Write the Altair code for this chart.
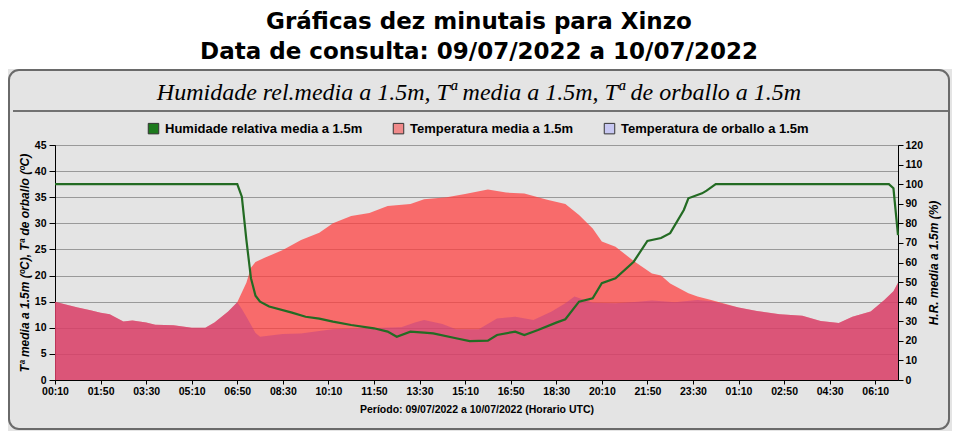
import altair as alt
import pandas as pd

# ---------------- data ----------------
TEMP_TIMES = [
    "2022-07-09 00:10", "2022-07-09 00:40", "2022-07-09 01:00", "2022-07-09 01:30", "2022-07-09 01:50",
    "2022-07-09 02:10", "2022-07-09 02:40", "2022-07-09 03:00", "2022-07-09 03:30", "2022-07-09 03:50",
    "2022-07-09 04:30", "2022-07-09 05:10", "2022-07-09 05:40", "2022-07-09 06:00", "2022-07-09 06:30",
    "2022-07-09 06:50", "2022-07-09 07:10", "2022-07-09 07:20", "2022-07-09 07:30", "2022-07-09 07:50",
    "2022-07-09 08:30", "2022-07-09 09:10", "2022-07-09 09:50", "2022-07-09 10:20", "2022-07-09 11:00",
    "2022-07-09 11:40", "2022-07-09 12:20", "2022-07-09 13:10", "2022-07-09 13:40", "2022-07-09 14:30",
    "2022-07-09 15:10", "2022-07-09 16:00", "2022-07-09 16:40", "2022-07-09 17:20", "2022-07-09 18:10",
    "2022-07-09 18:50", "2022-07-09 19:20", "2022-07-09 19:50", "2022-07-09 20:10", "2022-07-09 20:40",
    "2022-07-09 21:20", "2022-07-09 22:00", "2022-07-09 22:20", "2022-07-09 22:40", "2022-07-09 23:20",
    "2022-07-09 23:40", "2022-07-10 00:10", "2022-07-10 01:10", "2022-07-10 01:50", "2022-07-10 02:40",
    "2022-07-10 03:30", "2022-07-10 04:10", "2022-07-10 04:50", "2022-07-10 05:20", "2022-07-10 06:00",
    "2022-07-10 06:30", "2022-07-10 06:50", "2022-07-10 07:00",
]
TEMP_VALUES = [
    15.0, 14.3, 13.9, 13.3, 12.9,
    12.6, 11.2, 11.4, 11.0, 10.6,
    10.5, 10.0, 10.0, 11.0, 13.1,
    14.9, 18.6, 21.5, 22.6, 23.4,
    24.9, 26.8, 28.2, 30.0, 31.4,
    32.0, 33.3, 33.7, 34.6, 35.0,
    35.6, 36.5, 35.9, 35.7, 34.5,
    33.7, 31.6, 29.0, 26.5, 25.5,
    22.8, 20.4, 20.0, 18.5, 16.6,
    16.0, 15.3, 13.9, 13.2, 12.6,
    12.3, 11.3, 10.9, 12.1, 13.1,
    15.3, 17.0, 18.6,
]

DEW_TIMES = [
    "2022-07-09 00:10", "2022-07-09 00:40", "2022-07-09 01:00", "2022-07-09 01:30", "2022-07-09 01:50",
    "2022-07-09 02:10", "2022-07-09 02:40", "2022-07-09 03:00", "2022-07-09 03:30", "2022-07-09 03:50",
    "2022-07-09 04:30", "2022-07-09 05:10", "2022-07-09 05:40", "2022-07-09 06:00", "2022-07-09 06:30",
    "2022-07-09 06:50", "2022-07-09 07:00", "2022-07-09 07:10", "2022-07-09 07:30", "2022-07-09 07:40",
    "2022-07-09 08:30", "2022-07-09 09:10", "2022-07-09 09:50", "2022-07-09 10:20", "2022-07-09 11:30",
    "2022-07-09 12:50", "2022-07-09 13:20", "2022-07-09 13:40", "2022-07-09 14:20", "2022-07-09 14:50",
    "2022-07-09 15:40", "2022-07-09 16:20", "2022-07-09 17:00", "2022-07-09 17:40", "2022-07-09 18:20",
    "2022-07-09 18:50", "2022-07-09 19:10", "2022-07-09 19:50", "2022-07-09 20:40", "2022-07-09 21:30",
    "2022-07-09 22:00", "2022-07-09 22:50", "2022-07-09 23:40", "2022-07-10 00:10", "2022-07-10 01:10",
    "2022-07-10 01:50", "2022-07-10 02:40", "2022-07-10 03:30", "2022-07-10 04:10", "2022-07-10 04:50",
    "2022-07-10 05:20", "2022-07-10 06:00", "2022-07-10 06:30", "2022-07-10 06:50", "2022-07-10 07:00",
]
DEW_VALUES = [
    15.0, 14.3, 13.9, 13.3, 12.9,
    12.6, 11.2, 11.4, 11.0, 10.6,
    10.5, 10.0, 10.0, 11.0, 13.1,
    14.9, 13.6, 12.1, 9.0, 8.3,
    8.8, 8.9, 9.4, 9.7, 9.9,
    10.1, 11.0, 11.5, 10.7, 9.7,
    9.7, 11.8, 12.1, 11.5, 13.1,
    14.7, 16.0, 14.8, 14.7, 15.0,
    15.2, 14.9, 15.3, 15.1, 13.9,
    13.2, 12.6, 12.3, 11.3, 10.9,
    12.1, 13.1, 15.3, 17.0, 18.6,
]

RH_TIMES = [
    "2022-07-09 00:10", "2022-07-09 06:50", "2022-07-09 07:00", "2022-07-09 07:10", "2022-07-09 07:20",
    "2022-07-09 07:30", "2022-07-09 07:40", "2022-07-09 08:00", "2022-07-09 08:50", "2022-07-09 09:20",
    "2022-07-09 09:50", "2022-07-09 10:20", "2022-07-09 11:00", "2022-07-09 11:50", "2022-07-09 12:20",
    "2022-07-09 12:40", "2022-07-09 13:10", "2022-07-09 13:40", "2022-07-09 14:00", "2022-07-09 14:50",
    "2022-07-09 15:20", "2022-07-09 16:00", "2022-07-09 16:20", "2022-07-09 17:00", "2022-07-09 17:20",
    "2022-07-09 17:50", "2022-07-09 18:30", "2022-07-09 18:50", "2022-07-09 19:20", "2022-07-09 19:50",
    "2022-07-09 20:10", "2022-07-09 20:40", "2022-07-09 21:20", "2022-07-09 21:50", "2022-07-09 22:20",
    "2022-07-09 22:40", "2022-07-09 23:10", "2022-07-09 23:20", "2022-07-09 23:50", "2022-07-10 00:00",
    "2022-07-10 00:20", "2022-07-10 06:40", "2022-07-10 06:50", "2022-07-10 07:00",
]
RH_VALUES = [
    100, 100, 93.6, 71.5, 52,
    43, 40, 37.5, 34.4, 32.3,
    31.3, 29.8, 28.1, 26.4, 24.7,
    22.1, 24.7, 24.2, 23.8, 21.3,
    19.9, 20.1, 23.0, 24.7, 23.0,
    25.5, 29.3, 31.0, 40.0, 41.7,
    49.4, 51.9, 60.4, 71.0, 72.5,
    75.0, 86.8, 92.8, 95.3, 96.7,
    100, 100, 97.9, 74,
]

SERIES = [
    "Humidade relativa media a 1.5m",
    "Temperatura media a 1.5m",
    "Temperatura de orballo a 1.5m",
]
SERIES_COLORS = ["#1d7a1d", "#f08a8a", "#c8c8f2"]

X_TICK_LABELS = [
    "00:10", "01:50", "03:30", "05:10", "06:50", "08:30", "10:10", "11:50", "13:30", "15:10",
    "16:50", "18:30", "20:10", "21:50", "23:30", "01:10", "02:50", "04:30", "06:10",
]
Y_LEFT_TICKS = [0, 5, 10, 15, 20, 25, 30, 35, 40, 45]
Y_RIGHT_TICKS = [0, 10, 20, 30, 40, 50, 60, 70, 80, 90, 100, 110, 120]

TITLE_1 = "Gráficas dez minutais para Xinzo"
TITLE_2 = "Data de consulta: 09/07/2022 a 10/07/2022"
SUBTITLE = "Humidade rel.media a 1.5m, Tª media a 1.5m, Tª de orballo a 1.5m"
X_TITLE = "Período: 09/07/2022 a 10/07/2022 (Horario UTC)"
Y_LEFT_TITLE = "Tª media a 1.5m (ºC), Tª de orballo (ºC)"
Y_RIGHT_TITLE = "H.R. media a 1.5m (%)"

# ---------------- tables ----------------
temp_df = pd.DataFrame({"time": pd.to_datetime(TEMP_TIMES), "valor": TEMP_VALUES})
dew_df = pd.DataFrame({"time": pd.to_datetime(DEW_TIMES), "valor": DEW_VALUES})
rh_df = pd.DataFrame({"time": pd.to_datetime(RH_TIMES), "hr": RH_VALUES})
legend_df = pd.DataFrame({"time": [temp_df["time"].iloc[0]] * 3, "valor": [0, 0, 0], "serie": SERIES})

# tick positions (dates) derived from tick labels
tick_dates = []
day = 9
prev = -1
for lab in X_TICK_LABELS:
    h, m = map(int, lab.split(":"))
    if h * 60 + m < prev:
        day += 1
    prev = h * 60 + m
    tick_dates.append(alt.DateTime(year=2022, month=7, date=day, hours=h, minutes=m))

W, H = 843, 235
LABEL_FONT = "Liberation Sans"

x_enc = alt.X(
    "time:T",
    scale=alt.Scale(domain=[
        alt.DateTime(year=2022, month=7, date=9, hours=0, minutes=10),
        alt.DateTime(year=2022, month=7, date=10, hours=7, minutes=0),
    ]),
    axis=alt.Axis(
        values=tick_dates, format="%H:%M", labelAngle=0, labelFlush=False, labelOverlap=False,
        labelFont=LABEL_FONT, labelFontWeight="bold", labelFontSize=10.5, labelColor="black",
        tickSize=4, tickColor="black", labelPadding=2, domainColor="black", grid=False,
        title=X_TITLE, titleFont=LABEL_FONT, titleFontWeight="bold", titleFontSize=10.5,
        titleColor="black", titleX=W / 2, titleY=29, titleAlign="center", titleBaseline="middle",
    ),
)

y_left = alt.Y(
    "valor:Q",
    scale=alt.Scale(domain=[0, 45], nice=False),
    axis=alt.Axis(
        orient="left", values=Y_LEFT_TICKS, grid=True, gridColor="#999999", gridWidth=1,
        labelFont=LABEL_FONT, labelFontWeight="bold", labelFontSize=10.5, labelColor="black",
        tickSize=6, tickColor="black", labelPadding=3, domainColor="black",
        title=Y_LEFT_TITLE, titleFont=LABEL_FONT, titleFontWeight="bold", titleFontStyle="italic",
        titleFontSize=12, titleColor="black", titleAngle=270, titleX=-31, titleY=H / 2,
        titleAlign="center", titleBaseline="middle",
    ),
)

y_right = alt.Y(
    "hr:Q",
    scale=alt.Scale(domain=[0, 120], nice=False),
    axis=alt.Axis(
        orient="right", values=Y_RIGHT_TICKS, grid=False,
        labelFont=LABEL_FONT, labelFontWeight="bold", labelFontSize=10.5, labelColor="black",
        tickSize=5, tickColor="black", labelPadding=2, domainColor="black",
        title=Y_RIGHT_TITLE, titleFont=LABEL_FONT, titleFontWeight="bold", titleFontStyle="italic",
        titleFontSize=12, titleColor="black", titleAngle=270, titleX=35, titleY=H / 2,
        titleAlign="center", titleBaseline="middle",
    ),
)

temp_area = alt.Chart(temp_df).mark_area(color="#ff3c3c", opacity=0.72).encode(x=x_enc, y=y_left)
dew_area = alt.Chart(dew_df).mark_area(color="#bd3f85", opacity=0.5).encode(x=x_enc, y=y_left)
legend_pts = alt.Chart(legend_df).mark_square(opacity=0, filled=True).encode(
    x=x_enc,
    y=y_left,
    color=alt.Color(
        "serie:N",
        scale=alt.Scale(domain=SERIES, range=SERIES_COLORS),
        legend=alt.Legend(
            orient="none", legendX=92, legendY=-23, direction="horizontal", title=None,
            symbolType="square", symbolSize=110, symbolStrokeColor="#333333", symbolStrokeWidth=1,
            symbolOpacity=1, labelFont=LABEL_FONT, labelFontWeight="bold", labelFontSize=13,
            labelColor="black", labelLimit=0, columnPadding=28, labelOffset=5, padding=0,
        ),
    ),
)
left = alt.layer(temp_area, dew_area, legend_pts)

rh_line = alt.Chart(rh_df).mark_line(color="#236b23", strokeWidth=2.2).encode(x=x_enc, y=y_right)

one = alt.Data(values=[{}])
band = alt.Chart(one).mark_rect(fill="white").encode(
    x=alt.value(-47), x2=alt.value(W + 54), y=alt.value(-137), y2=alt.value(-76)
)
panel = alt.Chart(one).mark_rect(
    fillOpacity=0, stroke="#6a6a6a", strokeWidth=2, cornerRadius=10
).encode(x=alt.value(-46), x2=alt.value(W + 51), y=alt.value(-75), y2=alt.value(284))
sep = alt.Chart(one).mark_rule(color="black", strokeWidth=1.2).encode(
    x=alt.value(-42), x2=alt.value(W + 50), y=alt.value(-34)
)
t1 = alt.Chart(one).mark_text(
    text=TITLE_1, font="DejaVu Sans", fontWeight="bold", fontSize=23, align="center",
    baseline="middle", color="black"
).encode(x=alt.value(424), y=alt.value(-123))
t2 = alt.Chart(one).mark_text(
    text=TITLE_2, font="DejaVu Sans", fontWeight="bold", fontSize=23, align="center",
    baseline="middle", color="black"
).encode(x=alt.value(424), y=alt.value(-93))
st = alt.Chart(one).mark_text(
    text=SUBTITLE, font="Liberation Serif", fontStyle="italic", fontSize=24, align="center",
    baseline="middle", color="black"
).encode(x=alt.value(424), y=alt.value(-52))

chart = (
    alt.layer(band, panel, sep, t1, t2, st, left, rh_line)
    .resolve_scale(y="independent")
    .properties(
        width=W, height=H,
        autosize=alt.AutoSizeParams(type="none"),
        padding={"left": 47, "top": 137, "right": 54, "bottom": 51},
    )
    .configure(background="#e4e4e4")
    .configure_view(stroke="black", strokeWidth=1)
)

chart.save("out.html", embed_options={"renderer": "svg", "actions": False})
